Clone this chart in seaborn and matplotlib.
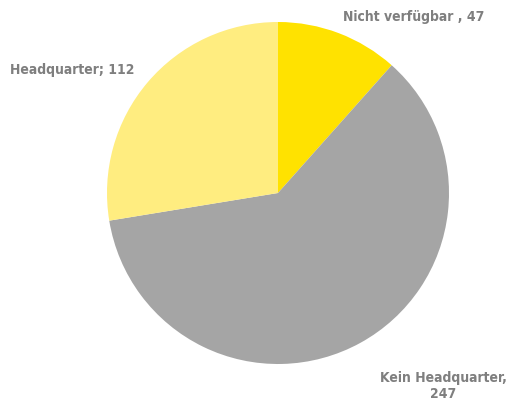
import matplotlib
matplotlib.use("Agg")
import matplotlib.pyplot as plt
import seaborn as sns

labels = ["Nicht verfügbar", "Kein Headquarter", "Headquarter"]
values = [47, 247, 112]
label_texts = ["Nicht verfügbar , 47", "Kein Headquarter,\n247", "Headquarter; 112"]
colors = ["#FFE200", "#A5A5A5", "#FFED80"]

sns.set_theme(style="white")
plt.rcParams['font.family'] = ['DejaVu Sans']

fig = plt.figure(figsize=(5.08, 4.03), dpi=100)
ax = fig.add_axes([107/508, 39/403, 342/508, 342/403])
ax.pie(values, colors=sns.color_palette(colors), startangle=90, counterclock=False,
       radius=1.0, wedgeprops=dict(linewidth=0))
ax.set_xlim(-1, 1)
ax.set_ylim(-1, 1)
ax.set_aspect("auto")
ax.axis("off")

pos = [(0.795, 1.029), (0.965, -1.129), (-1.205, 0.719)]
for t, (x, y) in zip(label_texts, pos):
    ax.text(x, y, t, ha="center", va="center", fontsize=10, fontweight="bold",
            fontstretch="condensed", color="#7F7F7F", clip_on=False, linespacing=1.2)

fig.savefig("out.png", dpi=100)
